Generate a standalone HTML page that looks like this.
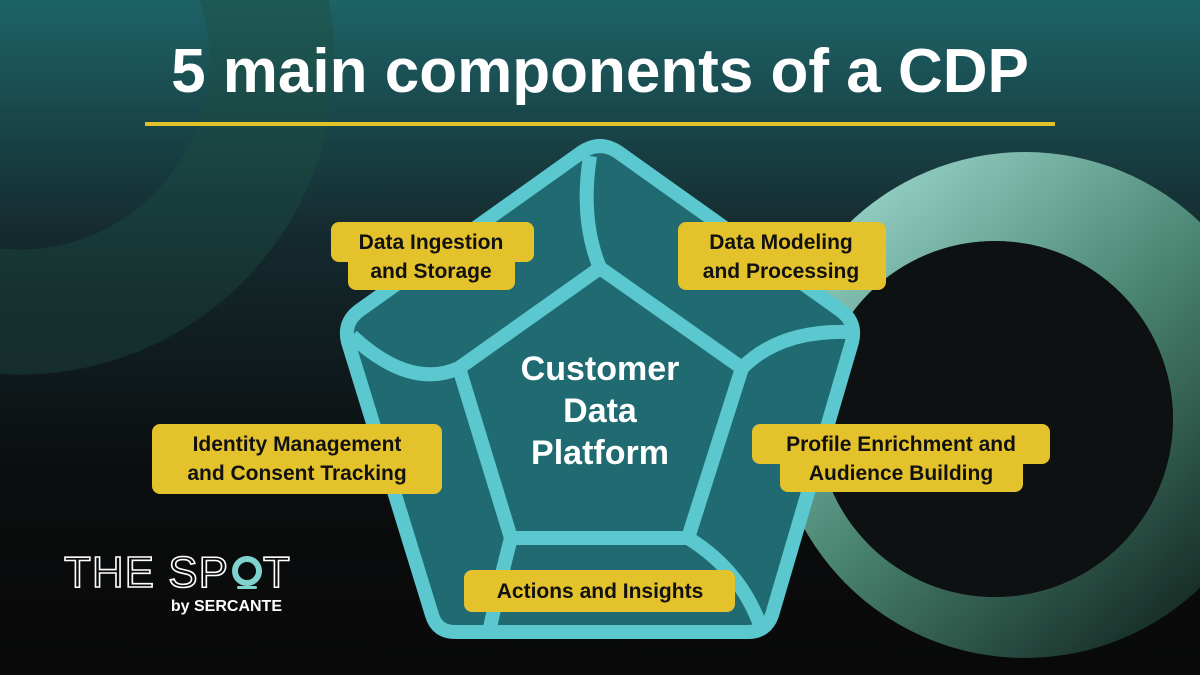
<!DOCTYPE html>
<html><head><meta charset="utf-8"><style>
html,body{margin:0;padding:0}
body{width:1200px;height:675px;overflow:hidden;font-family:"Liberation Sans",sans-serif}
</style></head><body>
<svg width="1200" height="675" viewBox="0 0 1200 675" xmlns="http://www.w3.org/2000/svg">
<defs>
<linearGradient id="bg" x1="0" y1="0" x2="0" y2="1">
<stop offset="0" stop-color="#1d6367"/><stop offset="0.35" stop-color="#152a2e"/><stop offset="0.7" stop-color="#0b0d0e"/><stop offset="1" stop-color="#090909"/></linearGradient>
<linearGradient id="rr" x1="0.15" y1="0.1" x2="0.9" y2="0.95">
<stop offset="0" stop-color="#93cfc3"/><stop offset="0.45" stop-color="#4a8572"/><stop offset="1" stop-color="#0e1f1b"/></linearGradient>
<linearGradient id="lr" x1="0" y1="0" x2="0" y2="1">
<stop offset="0" stop-color="#226f66"/><stop offset="1" stop-color="#163230"/></linearGradient>
</defs>
<rect width="1200" height="675" fill="url(#bg)"/>
<circle cx="20" cy="60" r="252" fill="none" stroke="url(#lr)" stroke-width="125" opacity="0.85"/>
<path fill="url(#rr)" fill-rule="evenodd" d="M772 405 A253 253 0 1 0 1278 405 A253 253 0 1 0 772 405 Z M817 419 A178 178 0 1 1 1173 419 A178 178 0 1 1 817 419 Z"/>
<circle cx="995" cy="419" r="178" fill="#0d1112"/>
<text x="600" y="92" text-anchor="middle" fill="#fff" font-size="62" font-weight="bold">5 main components of a CDP</text>
<rect x="145" y="122" width="910" height="4" fill="#e0c22a"/>
<g stroke="#5bc8cf" stroke-width="14" stroke-linejoin="round" fill="#206b72">
<path d="M582 152 Q600 140 618 152 L840 310 Q857 322 852 342 L772 615 Q766 632 748 632 L455 632 Q437 632 432 615 L348 342 Q343 322 360 310 Z"/>
<path d="M600 268 L742 368 L688 538 L511 538 L459 368 Z" fill="#206b72"/>
<g fill="none">
<path d="M600 268 Q580 220 590 156"/>
<path d="M742 368 Q780 330 848 332"/>
<path d="M459 368 Q410 390 352 336"/>
<path d="M511 538 Q500 580 490 628"/>
<path d="M688 538 Q740 570 760 625"/>
</g>
</g>
<text fill="#fff" font-size="34" font-weight="bold" text-anchor="middle">
<tspan x="600" y="380">Customer</tspan><tspan x="600" y="422">Data</tspan><tspan x="600" y="464">Platform</tspan></text>
<g fill="#e3c22b">
<rect x="331" y="222" width="203" height="40" rx="8"/><rect x="348" y="250" width="167" height="40" rx="8"/>
<rect x="678" y="222" width="208" height="68" rx="8"/>
<rect x="152" y="424" width="290" height="70" rx="8"/>
<rect x="752" y="424" width="298" height="40" rx="8"/><rect x="780" y="452" width="243" height="40" rx="8"/>
<rect x="464" y="570" width="271" height="42" rx="8"/>
</g>
<g fill="#111" font-size="21" font-weight="bold" text-anchor="middle">
<text x="431" y="249">Data Ingestion</text><text x="431" y="278">and Storage</text>
<text x="781" y="249">Data Modeling</text><text x="781" y="278">and Processing</text>
<text x="297" y="451">Identity Management</text><text x="297" y="480">and Consent Tracking</text>
<text x="901" y="451">Profile Enrichment and</text><text x="901" y="480">Audience Building</text>
<text x="600" y="598">Actions and Insights</text>
</g>
<text x="64" y="587" font-size="44" fill="none" stroke="#fff" stroke-width="1.6" letter-spacing="1">THE SP</text>
<circle cx="247" cy="571" r="12" fill="none" stroke="#7fd3cf" stroke-width="6"/>
<rect x="237" y="586" width="20" height="3" rx="1.5" fill="#7fd3cf"/>
<text x="263" y="587" font-size="44" fill="none" stroke="#fff" stroke-width="1.6">T</text>
<text x="282" y="611" font-size="16" fill="#fff" font-weight="bold" text-anchor="end">by SERCANTE</text>
</svg>
</body></html>
